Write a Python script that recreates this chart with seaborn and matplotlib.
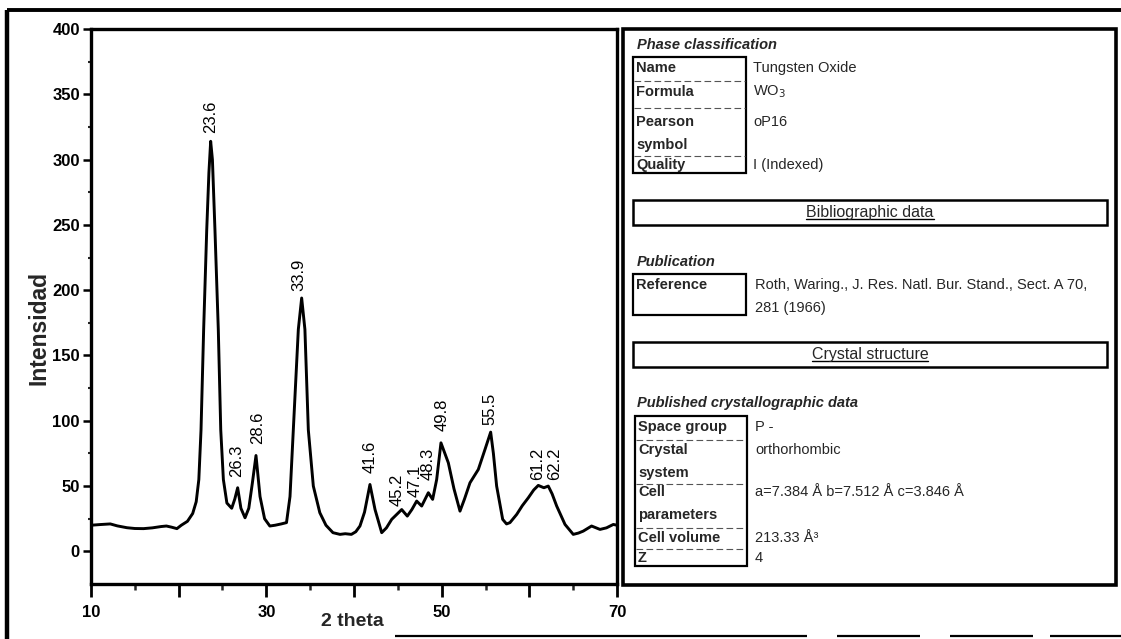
import matplotlib
matplotlib.use("Agg")
import matplotlib.pyplot as plt
import seaborn as sns
import pandas as pd
from matplotlib.patches import Rectangle

# ---------------- data ----------------
theta = [10.0, 11.0, 12.2, 13.0, 14.1, 15.0, 16.0, 17.0, 18.0, 18.6, 19.2, 19.8,
         20.3, 21.0, 21.6, 22.0, 22.3, 22.55, 22.85, 23.2, 23.45, 23.65, 23.85,
         24.14, 24.52, 24.8, 25.1, 25.5, 26.05, 26.4, 26.73, 27.1, 27.57, 28.0,
         28.4, 28.82, 29.28, 29.8, 30.4, 31.0, 31.7, 32.3, 32.7, 33.27, 33.65,
         34.03, 34.4, 34.79, 35.36, 36.1, 36.8, 37.6, 38.4, 39.0, 39.7, 40.2,
         40.68, 41.2, 41.82, 42.4, 43.16, 43.7, 44.3, 45.44, 46.08, 46.6, 47.15,
         47.72, 48.48, 48.97, 49.43, 49.92, 50.76, 51.4, 52.09, 52.6, 53.23,
         54.18, 54.94, 55.59, 55.9, 56.27, 56.96, 57.4, 57.79, 58.56, 59.2,
         59.88, 60.5, 61.02, 61.66, 62.16, 62.6, 63.12, 64.07, 65.01, 65.6,
         66.15, 67.1, 68.06, 68.8, 69.58, 70.0]
intensity = [20, 20.5, 21, 19.5, 18.1, 17.5, 17.4, 18, 19, 19.4, 18.5, 17.4,
             20, 23, 29, 38, 55, 93, 170, 246, 290, 314, 300,
             246, 170, 93, 55, 37, 33, 40, 48.7, 33, 25.7, 33,
             52, 73.4, 42, 25, 19.4, 20, 21, 22, 42, 119, 170,
             194, 170, 93, 50, 29.6, 20, 14.3, 13, 13.5, 13, 15,
             19.4, 30, 51.2, 32, 14.3, 18, 24.5, 32, 27, 32, 38.5,
             34.7, 44.9, 39.8, 55, 83.1, 67.8, 48, 30.8, 40, 52.5,
             62.7, 78, 91.3, 75, 50, 24.5, 21, 22, 28.3, 35,
             41, 47, 50.5, 48.7, 50, 44, 34.7, 20.6, 13, 14,
             15.5, 19.4, 16.8, 18, 20.6, 20]

peak_labels = ["23.6", "26.3", "28.6", "33.9", "41.6", "45.2", "47.1", "48.3",
               "49.8", "55.5", "61.2", "62.2"]
peak_x = [23.7, 26.6, 28.95, 33.7, 41.8, 44.9, 47.0, 48.45, 50.0, 55.5, 60.9, 62.85]
peak_y = [320, 57, 82, 199, 60, 35, 42, 55, 92, 97, 55, 55]

x_tick_values = [10, 20, 30, 40, 50, 60, 70]
x_tick_labels = ["10", "", "30", "", "50", "", "70"]
y_tick_values = [0, 50, 100, 150, 200, 250, 300, 350, 400]
y_tick_labels = ["0", "50", "100", "150", "200", "250", "300", "350", "400"]
x_title = "2 theta"
y_title = "Intensidad"

phase_title = "Phase classification"
phase_fields = ["Name", "Formula", "Pearson\nsymbol", "Quality"]
phase_values = ["Tungsten Oxide", "WO$_3$", "oP16", "I (Indexed)"]
biblio_header = "Bibliographic data"
pub_title = "Publication"
pub_fields = ["Reference"]
pub_values = ["Roth, Waring., J. Res. Natl. Bur. Stand., Sect. A 70,\n281 (1966)"]
crystal_header = "Crystal structure"
cryst_title = "Published crystallographic data"
cryst_fields = ["Space group", "Crystal\nsystem", "Cell\nparameters", "Cell volume", "Z"]
cryst_values = ["P -", "orthorhombic", "a=7.384 Å b=7.512 Å c=3.846 Å", "213.33 Å³", "4"]

# ---------------- figure ----------------
sns.set_theme(style="white")
plt.rcParams["font.family"] = ["Liberation Sans", "DejaVu Sans"]
W, H = 1121, 639
fig = plt.figure(figsize=(W / 100, H / 100), dpi=100)
fig.patch.set_facecolor("white")

ax = fig.add_axes([91 / W, 1 - 584 / H, 526 / W, 555 / H])
df = pd.DataFrame({"theta": theta, "intensity": intensity})
sns.lineplot(data=df, x="theta", y="intensity", ax=ax, color="black",
             linewidth=2.1, sort=False, estimator=None)
ax.set_xlim(10, 70)
ax.set_ylim(-25, 400)
for s in ax.spines.values():
    s.set_visible(True)
    s.set_color("black")
    s.set_linewidth(2.4)

ax.set_xticks(x_tick_values)
ax.set_xticklabels(x_tick_labels)
ax.set_xticks([v + 5 for v in x_tick_values[:-1]], minor=True)
ax.set_yticks(y_tick_values)
ax.set_yticklabels(y_tick_labels)
ax.set_yticks([v + 25 for v in y_tick_values[:-1]], minor=True)
ax.tick_params(axis="x", which="major", direction="out", length=9, width=2,
               pad=6, labelsize=12, colors="black", bottom=True)
ax.tick_params(axis="x", which="minor", direction="out", length=4.5, width=1.8,
               bottom=True)
ax.tick_params(axis="y", which="major", direction="out", length=6, width=1.8,
               pad=2, labelsize=12, colors="black", left=True)
ax.tick_params(axis="y", which="minor", direction="out", length=2.5, width=1.5,
               left=True)
for lbl in ax.get_xticklabels() + ax.get_yticklabels():
    lbl.set_fontweight("bold")

ax.set_xlabel(x_title, fontsize=14, fontweight="bold", va="center", ha="center")
ax.xaxis.set_label_coords((352 - 91) / 526, (584 - 622) / 555)
ax.set_ylabel(y_title, fontsize=16.5, fontweight="bold", va="center", ha="center")
ax.yaxis.set_label_coords((39 - 91) / 526, (584 - 328) / 555)

for lab, px, py in zip(peak_labels, peak_x, peak_y):
    ax.text(px, py, lab, rotation=90, ha="center", va="bottom", fontsize=12,
            color="black")

# ---------------- overlay for frame and info panel (pixel coords) ----------------
ov = fig.add_axes([0, 0, 1, 1], zorder=5)
ov.set_xlim(0, W)
ov.set_ylim(H, 0)
ov.axis("off")
ov.patch.set_alpha(0)

# outer frame of the picture
ov.plot([7, 7], [10, H], color="black", lw=3.2, solid_capstyle="butt")
ov.plot([7, W], [10, 10], color="black", lw=2.8, solid_capstyle="butt")
for a, b in [(395, 807), (837, 920), (950, 1033), (1050, W)]:
    ov.plot([a, b], [636, 636], color="black", lw=1.6, solid_capstyle="butt")

# info panel
ov.add_patch(Rectangle((623, 29), 1116 - 623, 585 - 29, fill=False,
                       edgecolor="black", lw=2.6))

FS = 10.5
HFS = 11.5
LINE = 23


def section_title(y, text):
    ov.text(637, y, text, fontsize=FS, fontweight="bold", style="italic",
            ha="left", va="center")


def field_block(y_rows, fields, values, x0, x1, xv, bottom=None):
    top = y_rows[0] - 11.5
    ends = []
    for yr, f, v in zip(y_rows, fields, values):
        flines = f.split("\n")
        for k, fl in enumerate(flines):
            ov.text(x0 + 3, yr + k * LINE, fl, fontsize=FS, fontweight="bold",
                    ha="left", va="center")
        vlines = v.split("\n")
        for k, vl in enumerate(vlines):
            ov.text(xv, yr + k * LINE, vl, fontsize=FS, ha="left", va="center")
        ends.append(yr + (len(flines) - 1) * LINE)
    if bottom is None:
        bottom = ends[-1] + 8
    ov.add_patch(Rectangle((x0, top), x1 - x0, bottom - top, fill=False,
                           edgecolor="black", lw=1.6))
    for e, nxt in zip(ends[:-1], y_rows[1:]):
        ym = (e + nxt) / 2 + 1
        ov.plot([x0 + 1, x1 - 1], [ym, ym], color="#555555", lw=0.8,
                ls=(0, (6, 3)))


def header_box(y0, y1, text):
    ov.add_patch(Rectangle((633, y0), 1107 - 633, y1 - y0, fill=False,
                           edgecolor="black", lw=1.8))
    return ov.text(870, (y0 + y1) / 2, text, fontsize=HFS, ha="center",
                   va="center")


section_title(45, phase_title)
field_block([68, 92, 122, 165], phase_fields, phase_values, 633, 746, 753)

hb1 = header_box(200, 225, biblio_header)

section_title(262, pub_title)
field_block([285], pub_fields, pub_values, 633, 746, 755, bottom=315)

hb2 = header_box(342, 367, crystal_header)

section_title(403, cryst_title)
field_block([427, 450, 492, 538, 558], cryst_fields, cryst_values, 635, 747, 755)

# underline the header texts
fig.canvas.draw()
r = fig.canvas.get_renderer()
for t in (hb1, hb2):
    bb = t.get_window_extent(r)
    yline = H - bb.y0 - 1
    ov.plot([bb.x0, bb.x1], [yline, yline], color="black", lw=1.0)

fig.savefig("out.png", dpi=100, facecolor="white")
